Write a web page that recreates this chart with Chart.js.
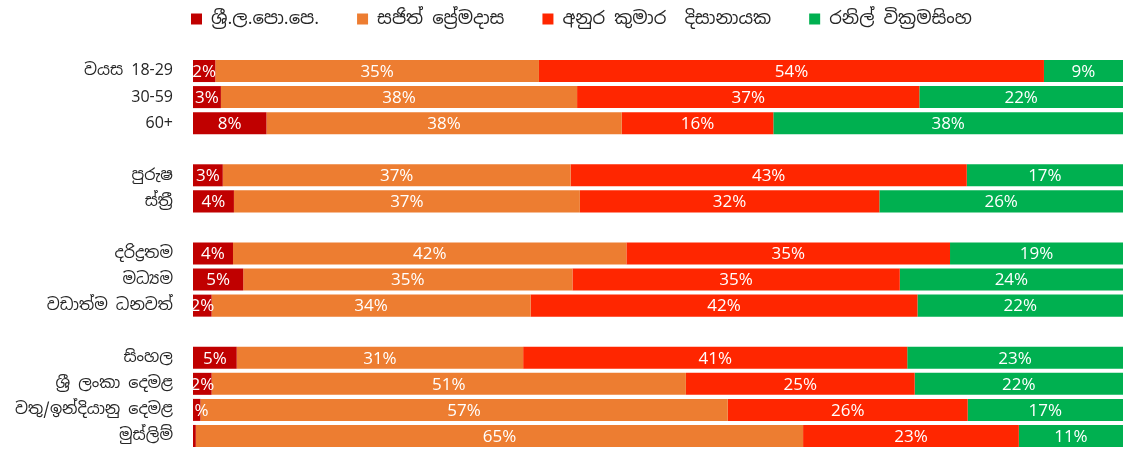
<!DOCTYPE html>
<html>
<head>
<meta charset="utf-8">
<script src="https://cdn.jsdelivr.net/npm/chart.js@4"></script>
<style>
  html, body { margin: 0; padding: 0; background: #fff; }
  #wrap { width: 1128px; height: 450px; }
</style>
</head>
<body>
<div id="wrap"><canvas id="barChart"></canvas></div>
<script>
// rows, top to bottom ("" = empty spacer row between groups)
const categories = ["වයස 18-29", "30-59", "60+", "", "පුරුෂ", "ස්ත්‍රී", "", "දරිද්‍රතම", "මධ්‍යම", "වඩාත්ම ධනවත්", "", "සිංහල", "ශ්‍රී ලංකා දෙමළ", "වතු/ඉන්දියානු දෙමළ", "මුස්ලිම්"];
const seriesNames = ["ශ්‍රී.ල.පො.පෙ.", "සජිත් ප්‍රේමදාස", "අනුර කුමාර  දිසානායක", "රනිල් වික්‍රමසිංහ"];

// shares in %
const slpp   = [2.4, 3.0, 7.9, null, 3.2, 4.4, null, 4.3, 5.4, 2.0, null, 4.7, 2.0, 0.8, 0.3];
const sajith = [34.8, 38.3, 38.2, null, 37.4, 37.2, null, 42.3, 35.4, 34.3, null, 30.8, 51.0, 56.7, 65.3];
const anura  = [54.3, 36.8, 16.3, null, 42.6, 32.2, null, 34.8, 35.2, 41.6, null, 41.3, 24.6, 25.8, 23.2];
const ranil  = [8.5, 21.9, 37.6, null, 16.8, 26.2, null, 18.6, 24.0, 22.1, null, 23.2, 22.4, 16.7, 11.2];

const colors = ["#C00000", "#ED7D31", "#FF2600", "#00B050"];
const sinhalaFont = "'Noto Sans Sinhala', 'Iskoola Pota', 'Noto Sans', 'DejaVu Sans', sans-serif";

// draws the % figure in the middle of each segment
const barLabels = {
  id: "barLabels",
  afterDatasetsDraw(chart) {
    const ctx = chart.ctx;
    ctx.save();
    ctx.font = "17px 'Open Sans', 'DejaVu Sans', sans-serif";
    ctx.fillStyle = "#ffffff";
    ctx.textAlign = "center";
    ctx.textBaseline = "middle";
    chart.data.datasets.forEach((ds, i) => {
      const meta = chart.getDatasetMeta(i);
      meta.data.forEach((bar, j) => {
        const v = ds.data[j];
        if (v == null || Math.round(v) < 1) return;
        const p = bar.getCenterPoint();
        ctx.fillText(Math.round(v) + "%", p.x, p.y + 1);
      });
    });
    ctx.restore();
  }
};

// legend: fixed height above the plot, drawn shifted into place
const legendSpace = {
  id: "legendSpace",
  beforeInit(chart) {
    const legend = chart.legend;
    const fit = legend.fit;
    legend.fit = function () {
      fit.bind(legend)();
      this.height = 58;
    };
    const draw = legend.draw;
    legend.draw = function () {
      const c = this.ctx;
      c.save();
      c.translate(20, -28);
      draw.call(legend);
      c.restore();
    };
  }
};

const ctx = document.getElementById("barChart").getContext("2d");
new Chart(ctx, {
  type: "bar",
  data: {
    labels: categories,
    datasets: [slpp, sajith, anura, ranil].map((d, i) => ({
      label: seriesNames[i],
      data: d,
      backgroundColor: colors[i],
      categoryPercentage: 1,
      barPercentage: 0.845,
    })),
  },
  options: {
    responsive: true,
    maintainAspectRatio: false,
    animation: false,
    indexAxis: "y",
    layout: { padding: { left: 0, right: 5, top: 0, bottom: 1 } },
    scales: {
      x: { stacked: true, min: 0, max: 100, display: false },
      y: {
        stacked: true,
        grid: { display: false, drawTicks: true, tickLength: 20 },
        border: { display: false },
        afterFit(scale) {
          scale.width = 193;
          scale.paddingTop = 0;
          scale.paddingBottom = 0;
        },
        ticks: {
          padding: 0,
          color: "#262626",
          font: { size: 16, family: sinhalaFont },
        },
      },
    },
    plugins: {
      tooltip: { enabled: false },
      legend: {
        position: "top",
        labels: {
          boxWidth: 11,
          boxHeight: 11,
          padding: 38,
          color: "#262626",
          font: { size: 18, family: sinhalaFont },
        },
      },
    },
  },
  plugins: [barLabels, legendSpace],
});
</script>
</body>
</html>
